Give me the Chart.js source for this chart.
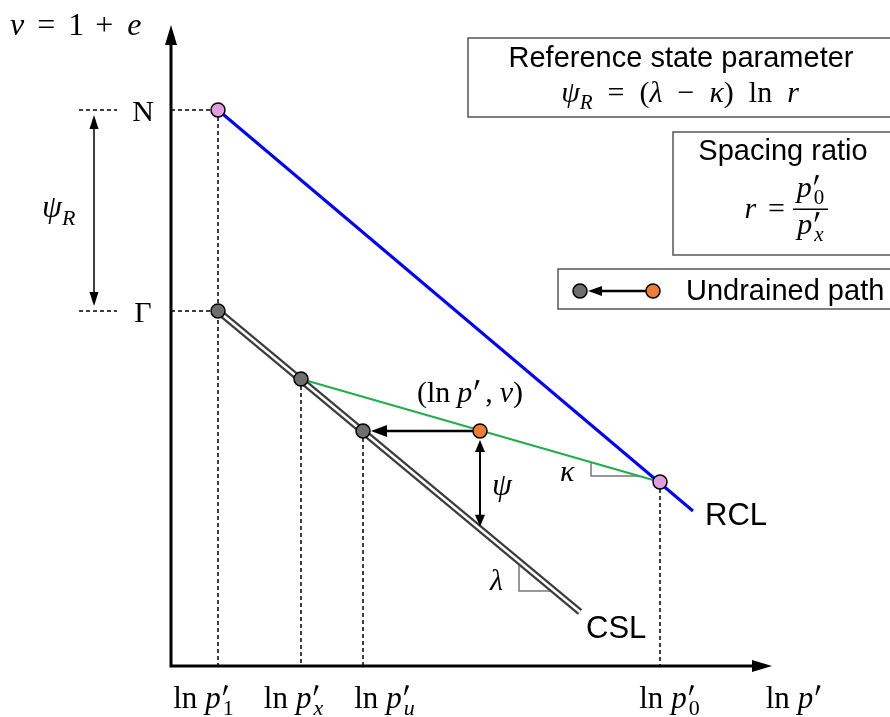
<!DOCTYPE html>
<html>
<head>
<meta charset="utf-8">
<script src="https://cdn.jsdelivr.net/npm/chart.js@4"></script>
<style>
  body { margin: 0; background: #fff; }
  canvas { display: block; }
</style>
</head>
<body>
<canvas id="myChart" width="890" height="717"></canvas>
<script>
// ln p' positions of the marked states and their subscripts
const lnpTicks = [0.47, 1.30, 1.92, 4.89];
const lnpSubs = ["1", "x", "u", "0"];
const lnpSubItalic = [false, true, true, false];

// v levels on the vertical axis
const vLevels = [5.56, 3.55];
const vLabels = ["N", "\u0393"];

// lines as [ln p', v] pairs
const rclLine = [[0.47, 5.56], [5.22, 1.55]];
const cslLine = [[0.47, 3.55], [4.09, 0.54]];
const kappaLine = [[1.30, 2.87], [4.89, 1.84]];

// state points
const greyPoints = [[0.47, 3.55], [1.30, 2.87], [1.92, 2.35]];
const pinkPoints = [[0.47, 5.56], [4.89, 1.84]];
const orangePoints = [[3.09, 2.35]];

const SERIF = '"Liberation Serif", "DejaVu Serif", serif';
const SANS = '"Liberation Sans", Arial, sans-serif';
const PRIME_W = 6;

const xy = arr => arr.map(p => ({ x: p[0], y: p[1] }));

function smallFont(italic, size) {
  return (italic ? "italic " : "") + Math.round(size * 0.7) + "px " + SERIF;
}
function partFont(k, size) {
  if (k === "sb") return smallFont(false, size);
  if (k === "si") return smallFont(true, size);
  return (k === "i" ? "italic " : "") + size + "px " + SERIF;
}
function partWidth(ctx, part, size) {
  const [t, k] = part;
  if (k === "g") return t;
  if (k === "p") return PRIME_W;
  if (k === "pr" || k === "pi") {
    ctx.font = smallFont(k === "pi", size);
    return Math.max(PRIME_W, ctx.measureText(t).width);
  }
  ctx.font = partFont(k, size);
  return ctx.measureText(t).width;
}
function prime(ctx, cx, y, size) {
  ctx.save();
  ctx.fillStyle = "#000";
  ctx.beginPath();
  ctx.moveTo(cx + 3.2, y - size * 0.74);
  ctx.lineTo(cx + 6.4, y - size * 0.72);
  ctx.lineTo(cx + 2.2, y - size * 0.41);
  ctx.lineTo(cx + 1.2, y - size * 0.42);
  ctx.closePath();
  ctx.fill();
  ctx.restore();
}
// draws math-ish text: parts = [text, kind]
function rich(ctx, parts, x, y, size, align) {
  let total = 0;
  parts.forEach(p => total += partWidth(ctx, p, size));
  let cx = align === "center" ? x - total / 2 : (align === "right" ? x - total : x);
  ctx.save();
  ctx.fillStyle = "#000";
  ctx.textAlign = "left";
  ctx.textBaseline = "alphabetic";
  parts.forEach(p => {
    const [t, k] = p;
    const w = partWidth(ctx, p, size);
    if (k === "pr" || k === "pi" || k === "p") {
      prime(ctx, cx, y, size);
      if (k !== "p") {
        ctx.font = smallFont(k === "pi", size);
        ctx.fillText(t, cx + 1, y + size * 0.23);
      }
    } else if (k === "sb" || k === "si") {
      ctx.font = partFont(k, size);
      ctx.fillText(t, cx, y + size * 0.24);
    } else if (k !== "g") {
      ctx.font = partFont(k, size);
      ctx.fillText(t, cx, y);
    }
    cx += w;
  });
  ctx.restore();
}

function arrowHead(ctx, x1, y1, x2, y2, len, half) {
  const a = Math.atan2(y2 - y1, x2 - x1);
  ctx.beginPath();
  ctx.moveTo(x2, y2);
  ctx.lineTo(x2 - len * Math.cos(a) + half * Math.sin(a), y2 - len * Math.sin(a) - half * Math.cos(a));
  ctx.lineTo(x2 - len * Math.cos(a) - half * Math.sin(a), y2 - len * Math.sin(a) + half * Math.cos(a));
  ctx.closePath();
  ctx.fill();
}
function arrow(ctx, x1, y1, x2, y2, w, len, half, both) {
  const a = Math.atan2(y2 - y1, x2 - x1);
  ctx.save();
  ctx.strokeStyle = "#000";
  ctx.fillStyle = "#000";
  ctx.lineWidth = w;
  ctx.beginPath();
  ctx.moveTo(both ? x1 + (len - 2) * Math.cos(a) : x1, both ? y1 + (len - 2) * Math.sin(a) : y1);
  ctx.lineTo(x2 - (len - 2) * Math.cos(a), y2 - (len - 2) * Math.sin(a));
  ctx.stroke();
  arrowHead(ctx, x1, y1, x2, y2, len, half);
  if (both) arrowHead(ctx, x2, y2, x1, y1, len, half);
  ctx.restore();
}
function vOnLine(line, x) {
  const [[x0, y0], [x1, y1]] = line;
  return y0 + (y1 - y0) * (x - x0) / (x1 - x0);
}
function lnpOnLine(line, v) {
  const [[x0, y0], [x1, y1]] = line;
  return x0 + (x1 - x0) * (v - y0) / (y1 - y0);
}

const diagram = {
  id: "diagram",
  beforeDatasetsDraw(chart) {
    const { ctx, chartArea: ca, scales: { x, y } } = chart;
    ctx.save();
    // dashed guides
    ctx.strokeStyle = "#000";
    ctx.lineWidth = 1.5;
    ctx.setLineDash([4, 3]);
    const tickV = [vLevels[0], kappaLine[0][1], greyPoints[2][1], pinkPoints[1][1]];
    lnpTicks.forEach((t, i) => {
      ctx.beginPath();
      ctx.moveTo(x.getPixelForValue(t), y.getPixelForValue(tickV[i]));
      ctx.lineTo(x.getPixelForValue(t), ca.bottom);
      ctx.stroke();
    });
    vLevels.forEach(v => {
      const py = y.getPixelForValue(v);
      ctx.beginPath();
      ctx.moveTo(ca.left, py);
      ctx.lineTo(x.getPixelForValue(lnpTicks[0]), py);
      ctx.moveTo(79, py);
      ctx.lineTo(117, py);
      ctx.stroke();
    });
    ctx.setLineDash([]);

    // slope triangles
    ctx.strokeStyle = "#777";
    ctx.lineWidth = 1.5;
    const kx = 4.20, kBot = 1.90;
    ctx.beginPath();
    ctx.moveTo(x.getPixelForValue(kx), y.getPixelForValue(vOnLine(kappaLine, kx)));
    ctx.lineTo(x.getPixelForValue(kx), y.getPixelForValue(kBot));
    ctx.lineTo(x.getPixelForValue(lnpOnLine(kappaLine, kBot)), y.getPixelForValue(kBot));
    ctx.stroke();
    const lx = 3.48, lBot = 0.75;
    ctx.beginPath();
    ctx.moveTo(x.getPixelForValue(lx), y.getPixelForValue(vOnLine(cslLine, lx)) + 3);
    ctx.lineTo(x.getPixelForValue(lx), y.getPixelForValue(lBot));
    ctx.lineTo(x.getPixelForValue(lnpOnLine(cslLine, lBot)) - 3, y.getPixelForValue(lBot));
    ctx.stroke();

    // axes
    ctx.strokeStyle = "#000";
    ctx.fillStyle = "#000";
    ctx.lineWidth = 3;
    ctx.beginPath();
    ctx.moveTo(ca.left, ca.top + 15);
    ctx.lineTo(ca.left, ca.bottom);
    ctx.lineTo(ca.right - 15, ca.bottom);
    ctx.stroke();
    arrowHead(ctx, ca.left, ca.bottom, ca.left, ca.top - 1, 20, 6);
    arrowHead(ctx, ca.left, ca.bottom, ca.right + 1, ca.bottom, 20, 6);

    // undrained path arrow
    const o = orangePoints[0], g = greyPoints[2];
    arrow(ctx, x.getPixelForValue(o[0]) - 7, y.getPixelForValue(o[1]),
      x.getPixelForValue(g[0]) + 8, y.getPixelForValue(g[1]), 2.5, 16, 6, false);
    ctx.restore();
  },
  afterDatasetsDraw(chart) {
    const { ctx, scales: { x, y } } = chart;
    ctx.save();
    // psi arrow between state and CSL
    const o = orangePoints[0];
    const px = x.getPixelForValue(o[0]);
    arrow(ctx, px, y.getPixelForValue(o[1]) + 9, px, y.getPixelForValue(vOnLine(cslLine, o[0])) - 2, 2, 12, 5, true);
    // psi_R arrow
    arrow(ctx, 94, y.getPixelForValue(vLevels[0]) + 5, 94, y.getPixelForValue(vLevels[1]) - 5, 1.5, 14, 4.5, true);

    // axis texts
    rich(ctx, [["v", "i"], [13, "g"], ["=", "r"], [13, "g"], ["1", "r"], [11, "g"], ["+", "r"], [14, "g"], ["e", "i"]], 10, 35, 32, "left");
    vLabels.forEach((l, i) => rich(ctx, [[l, "r"]], 143, y.getPixelForValue(vLevels[i]) + 11, 30, "center"));
    rich(ctx, [["\u03c8", "i"], ["R", "si"]], 42, 217, 32, "left");
    const labelShift = [-15, -8, 21, 9];
    lnpTicks.forEach((t, i) => {
      rich(ctx, [["ln", "r"], [8, "g"], ["p", "i"], [1, "g"], [lnpSubs[i], lnpSubItalic[i] ? "pi" : "pr"]],
        x.getPixelForValue(t) + labelShift[i], 708, 31, "center");
    });
    rich(ctx, [["ln", "r"], [8, "g"], ["p", "i"], [1, "g"], ["", "p"]], 793, 708, 31, "center");

    // annotations on the plot
    rich(ctx, [["(ln", "r"], [7, "g"], ["p", "i"], [1, "g"], ["", "p"], [6, "g"], [",", "r"], [7, "g"], ["v", "i"], [")", "r"]], 470, 402, 30, "center");
    rich(ctx, [["\u03c8", "i"]], 492, 495, 32, "left");
    rich(ctx, [["\u03ba", "i"]], 560, 481, 30, "left");
    rich(ctx, [["\u03bb", "i"]], 490, 590, 30, "left");
    ctx.fillStyle = "#000";
    ctx.font = "31px " + SANS;
    ctx.textBaseline = "alphabetic";
    ctx.fillText("RCL", 705, 525);
    ctx.fillText("CSL", 586, 638);

    // info boxes
    ctx.strokeStyle = "#555";
    ctx.lineWidth = 1.5;
    ctx.strokeRect(468, 38, 430, 79);
    ctx.strokeRect(673, 132, 225, 123);
    ctx.strokeRect(558, 269, 340, 40);
    ctx.textAlign = "center";
    ctx.font = "29px " + SANS;
    ctx.fillText("Reference state parameter", 681, 67);
    rich(ctx, [["\u03c8", "i"], ["R", "si"], ["  =  (", "r"], ["\u03bb", "i"], ["  \u2212  ", "r"], ["\u03ba", "i"], [")  ln  ", "r"], ["r", "i"]], 680, 102, 30, "center");
    ctx.textAlign = "center";
    ctx.font = "29px " + SANS;
    ctx.fillText("Spacing ratio", 783, 160);
    rich(ctx, [["r", "i"], [12, "g"], ["=", "r"], [8, "g"]], 793, 218, 30, "right");
    ctx.fillStyle = "#000";
    ctx.fillRect(793, 208.5, 35, 1.5);
    rich(ctx, [["p", "i"], [1, "g"], ["0", "pr"]], 810, 197, 30, "center");
    rich(ctx, [["p", "i"], [1, "g"], ["x", "pi"]], 810, 234, 30, "center");

    // legend
    ctx.strokeStyle = "#000";
    ctx.fillStyle = "#000";
    arrow(ctx, 647, 291, 588, 291, 2.5, 14, 5, false);
    [[580, "#6e6e6e"], [653, "#ed7d31"]].forEach(([cx, c]) => {
      ctx.beginPath();
      ctx.arc(cx, 291, 7, 0, Math.PI * 2);
      ctx.fillStyle = c;
      ctx.fill();
      ctx.lineWidth = 1.5;
      ctx.strokeStyle = "#000";
      ctx.stroke();
    });
    ctx.fillStyle = "#000";
    ctx.textAlign = "left";
    ctx.font = "29px " + SANS;
    ctx.fillText("Undrained path", 686, 300);
    ctx.restore();
  }
};

const pointStyle = (data, color) => ({
  data: xy(data), showLine: false, pointRadius: 7, pointHoverRadius: 7,
  pointBackgroundColor: color, pointBorderColor: "#000", pointBorderWidth: 1.5, order: 0
});

const config = {
  type: "scatter",
  data: {
    datasets: [
      pointStyle(greyPoints, "#6e6e6e"),
      pointStyle(pinkPoints, "#e29ce0"),
      pointStyle(orangePoints, "#ed7d31"),
      { label: "RCL", data: xy(rclLine), showLine: true, borderColor: "#0000ff", borderWidth: 3, pointRadius: 0, order: 3 },
      { label: "kappa", data: xy(kappaLine), showLine: true, borderColor: "#1fae4b", borderWidth: 2, pointRadius: 0, order: 4 },
      { label: "CSL inner", data: xy(cslLine), showLine: true, borderColor: "#ffffff", borderWidth: 2.5, pointRadius: 0, order: 5 },
      { label: "CSL", data: xy(cslLine), showLine: true, borderColor: "#3c3c3c", borderWidth: 7, pointRadius: 0, order: 6 }
    ]
  },
  options: {
    responsive: false,
    animation: false,
    layout: { padding: { left: 171, right: 119, top: 26, bottom: 51 } },
    scales: {
      x: { type: "linear", min: 0, max: 6.0, display: false },
      y: { type: "linear", min: 0, max: 6.4, display: false }
    },
    plugins: {
      legend: { display: false },
      tooltip: { enabled: false }
    }
  },
  plugins: [diagram]
};
const ctx = document.getElementById("myChart").getContext("2d");
const myChart = new Chart(ctx, config);
</script>
</body>
</html>
